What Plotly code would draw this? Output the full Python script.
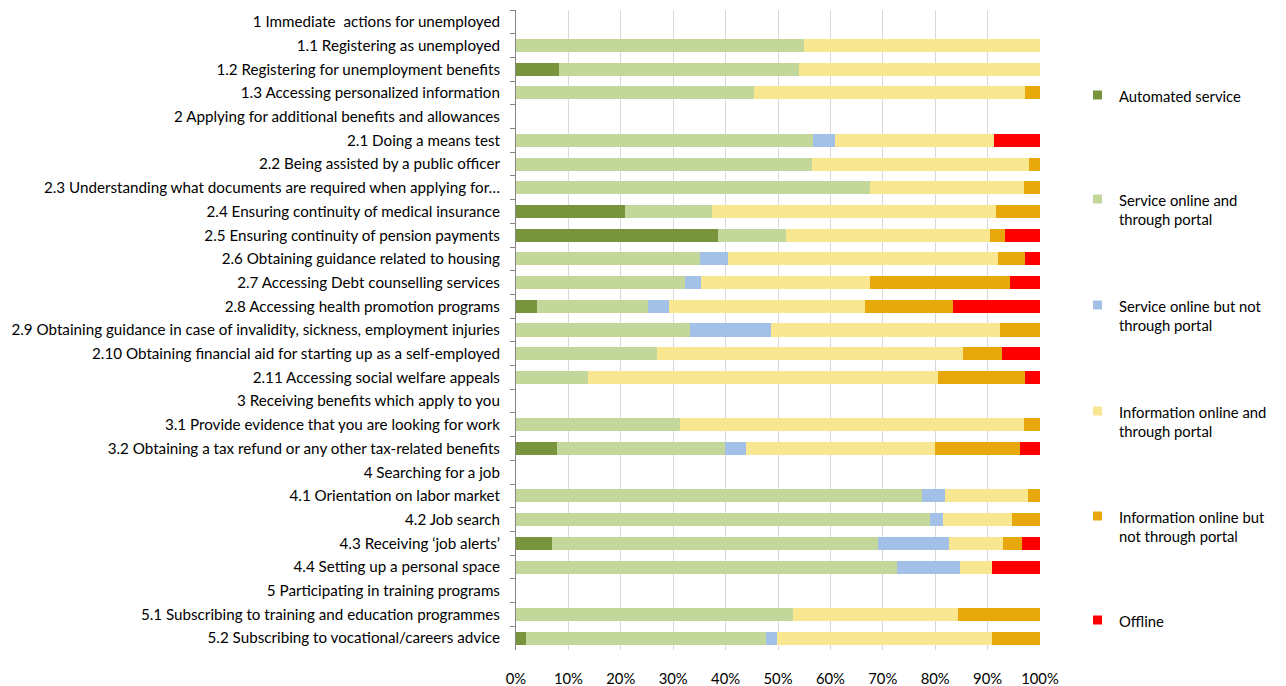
import plotly.graph_objects as go

categories = [
    "1 Immediate  actions for unemployed",
    "1.1 Registering as unemployed",
    "1.2 Registering for unemployment benefits",
    "1.3 Accessing personalized information",
    "2 Applying for additional benefits and allowances",
    "2.1 Doing a means test",
    "2.2 Being assisted by a public officer",
    "2.3 Understanding what documents are required when applying for…",
    "2.4 Ensuring continuity of medical insurance",
    "2.5 Ensuring continuity of pension payments",
    "2.6 Obtaining guidance related to housing",
    "2.7 Accessing Debt counselling services",
    "2.8 Accessing health promotion programs",
    "2.9 Obtaining guidance in case of invalidity, sickness, employment injuries",
    "2.10 Obtaining financial aid for starting up as a self-employed",
    "2.11 Accessing social welfare appeals",
    "3 Receiving benefits which apply to you",
    "3.1 Provide evidence that you are looking for work",
    "3.2 Obtaining a tax refund or any other tax-related benefits",
    "4 Searching for a job",
    "4.1 Orientation on labor market",
    "4.2 Job search",
    "4.3 Receiving ‘job alerts’",
    "4.4 Setting up a personal space",
    "5 Participating in training programs",
    "5.1 Subscribing to training and education programmes",
    "5.2 Subscribing to vocational/careers advice",
]

automated_service = [0, 0, 8.3, 0, 0, 0, 0, 0, 20.8, 38.5, 0, 0, 4.1, 0, 0, 0,
                     0, 0, 7.9, 0, 0, 0, 6.8, 0, 0, 0, 2.0]
service_online_portal = [0, 55.0, 45.8, 45.5, 0, 56.6, 56.4, 67.5, 16.6, 13.1, 35.1, 32.3, 21.0, 33.3, 26.9, 13.7,
                         0, 31.3, 32.0, 0, 77.4, 79.0, 62.3, 72.7, 0, 52.8, 45.8]
service_online_not_portal = [0, 0, 0, 0, 0, 4.2, 0, 0, 0, 0, 5.3, 3.0, 4.1, 15.3, 0, 0,
                             0, 0, 4.0, 0, 4.4, 2.5, 13.6, 12.1, 0, 0, 2.1]
info_online_portal = [0, 45.0, 45.9, 51.7, 0, 30.5, 41.5, 29.5, 54.2, 38.9, 51.5, 32.2, 37.4, 43.7, 58.4, 66.9,
                      0, 65.7, 36.0, 0, 15.9, 13.2, 10.3, 6.1, 0, 31.6, 41.0]
info_online_not_portal = [0, 0, 0, 2.8, 0, 0, 2.1, 3.0, 8.4, 2.9, 5.3, 26.7, 16.8, 7.7, 7.5, 16.6,
                          0, 3.0, 16.2, 0, 2.3, 5.3, 3.5, 0, 0, 15.6, 9.1]
offline = [0, 0, 0, 0, 0, 8.7, 0, 0, 0, 6.6, 2.8, 5.8, 16.6, 0, 7.2, 2.8,
           0, 0, 3.9, 0, 0, 0, 3.5, 9.1, 0, 0, 0]

series_names = [
    "Automated service",
    "Service online and<br>through portal",
    "Service online but not<br>through portal",
    "Information online and<br>through portal",
    "Information online but<br>not through portal",
    "Offline",
]
series_values = [automated_service, service_online_portal, service_online_not_portal,
                 info_online_portal, info_online_not_portal, offline]
colors = ["#78943C", "#C4D79B", "#A3C1E6", "#F9E691", "#E6A80A", "#FF0000"]

FONT = "Lato, Carlito, Calibri, sans-serif"

fig = go.Figure()
for name, vals, col in zip(series_names, series_values, colors):
    fig.add_trace(go.Bar(
        y=categories, x=vals, orientation="h", name=name,
        marker=dict(color=col, line=dict(width=0)),
        showlegend=False,
    ))

# manual legend (Excel-like spacing)
W, H = 1286, 686
L, R, T, B = 516, 246, 10, 36
pw, ph = W - L - R, H - T - B
legend_y = [95, 199, 305, 411, 516, 620]
for name, col, yc in zip(series_names, colors, legend_y):
    x0 = (1093 - L) / pw
    x1 = (1102 - L) / pw
    y0 = (H - B - (yc + 4.5)) / ph
    y1 = (H - B - (yc - 4.5)) / ph
    fig.add_shape(type="rect", xref="paper", yref="paper", x0=x0, x1=x1, y0=y0, y1=y1,
                  fillcolor=col, line=dict(width=0))
    fig.add_annotation(xref="paper", yref="paper", x=(1117 - L) / pw, y=(H - B - (yc - 10.5)) / ph,
                       xanchor="left", yanchor="top", align="left", showarrow=False,
                       text=name, font=dict(family=FONT, size=14.8, color="#000000"))

fig.update_layout(
    barmode="stack",
    bargap=0.45,
    width=W, height=H,
    margin=dict(l=L, r=R, t=T, b=B, autoexpand=False),
    paper_bgcolor="white", plot_bgcolor="white",
    font=dict(family=FONT, size=15, color="#000000"),
)
fig.update_xaxes(
    range=[0, 100], dtick=10, ticksuffix="%", automargin=False,
    showgrid=True, gridcolor="#D9D9D9", gridwidth=1,
    zeroline=False, showline=False,
    ticks="outside", ticklen=15, tickcolor="rgba(0,0,0,0)",
    tickfont=dict(family=FONT, size=14.8, color="#000000"),
)
fig.update_yaxes(
    type="category", autorange="reversed", automargin=False,
    showline=True, linecolor="#868686", linewidth=1,
    ticks="outside", tickson="boundaries", ticklen=5, tickcolor="#868686",
    ticklabelstandoff=12,
    showgrid=False,
    tickfont=dict(family=FONT, size=15.2, color="#000000"),
)

fig.write_html("out.html", config={"displayModeBar": False},
               post_script="document.body.style.margin='0';document.body.style.overflow='hidden';")
